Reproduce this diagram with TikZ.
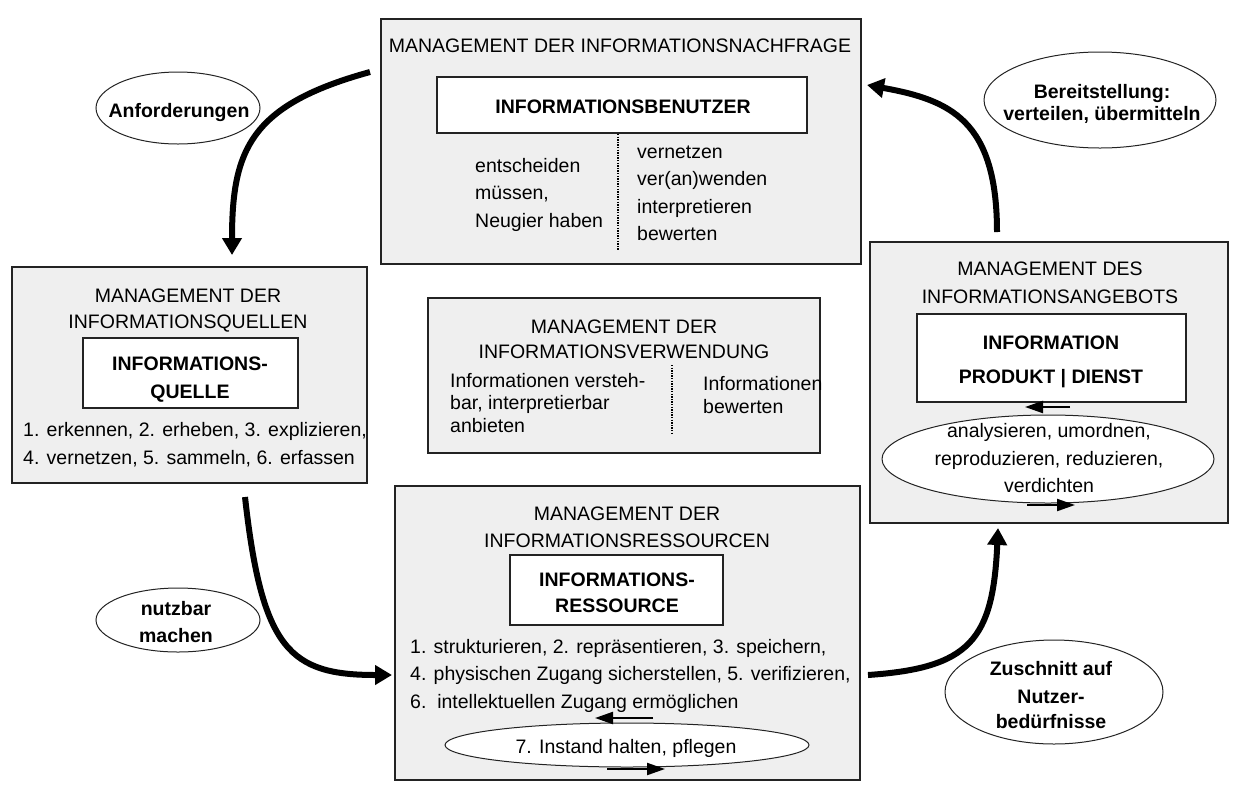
\documentclass[tikz,border=0pt]{standalone}
\usepackage{fontspec}
\setmainfont{Liberation Sans}
\usetikzlibrary{arrows.meta,shapes.geometric}
\definecolor{boxgray}{RGB}{239,239,239}
\definecolor{edge}{RGB}{35,35,35}
\begin{document}
\begin{tikzpicture}[x=1pt,y=-1pt,
  font=\fontsize{19.5}{27.5}\selectfont,
  panel/.style={draw=edge,line width=1.3pt,fill=boxgray,inner sep=0pt},
  whitebox/.style={draw=edge,line width=1.4pt,fill=white,inner sep=0pt},
  oval/.style={draw=edge,line width=1pt,fill=white,ellipse,inner sep=0pt},
  ln/.style={anchor=base,inner sep=0pt},
  lnw/.style={anchor=base west,inner sep=0pt},
  bln/.style={anchor=base,inner sep=0pt,font=\fontsize{19.5}{27.5}\selectfont\bfseries},
  bigarrow/.style={line width=6pt,-{Triangle[length=17pt,width=19pt]}},
  smallarrow/.style={line width=2.2pt,-{Triangle[length=18pt,width=12pt]}},
  dotline/.style={line width=1.6pt,dash pattern=on 1.4pt off 1.2pt}]
\useasboundingbox (0,0) rectangle (1258,796);

% ---------- panels ----------
\node[panel,minimum width=480pt,minimum height=245pt] (nach) at (621,141.5) {};
\node[panel,minimum width=355pt,minimum height=216pt] (quel) at (189.5,375) {};
\node[panel,minimum width=392pt,minimum height=155pt] (verw) at (624,375.5) {};
\node[panel,minimum width=465pt,minimum height=294pt] (ress) at (627.5,633) {};
\node[panel,minimum width=358pt,minimum height=281pt] (ange) at (1049,382.5) {};

% ---------- inner white boxes ----------
\node[whitebox,minimum width=370pt,minimum height=56pt] (benu) at (622,105) {};
\node[whitebox,minimum width=215pt,minimum height=70pt] (quelle) at (190.5,373) {};
\node[whitebox,minimum width=213pt,minimum height=70pt] (ressource) at (616.5,590) {};
\node[whitebox,minimum width=269pt,minimum height=88pt] (produkt) at (1051.5,358) {};

% ---------- ovals ----------
\node[oval,minimum width=364pt,minimum height=44pt] (pflege) at (627,745) {};
\node[oval,minimum width=332pt,minimum height=88pt] (analyse) at (1048,459) {};
\node[oval,minimum width=164pt,minimum height=72pt] (anf) at (178,108) {};
\node[oval,minimum width=164pt,minimum height=64pt] (nutz) at (178,620) {};
\node[oval,minimum width=232pt,minimum height=96pt] (bereit) at (1100,100) {};
\node[oval,minimum width=218pt,minimum height=104pt] (zuschnitt) at (1054,692) {};

% ---------- dotted separators ----------
\coordinate (d1a) at (618,134);
\coordinate (d1b) at (618,250);
\draw[dotline] (d1a) -- (d1b);
\coordinate (d2a) at (672,365);
\coordinate (d2b) at (672,433);
\draw[dotline] (d2a) -- (d2b);

% ---------- texts: Nachfrage ----------
\node[ln] (n1) at (620,52) {MANAGEMENT DER INFORMATIONSNACHFRAGE};
\node[bln] (n2) at (623,113) {INFORMATIONSBENUTZER};
\node[lnw] (n3) at (475,172) {entscheiden};
\node[lnw] (n4) at (475,199.5) {müssen,};
\node[lnw] (n5) at (475,227) {Neugier haben};
\node[lnw] (n6) at (637,158) {vernetzen};
\node[lnw] (n7) at (637,185.5) {ver(an)wenden};
\node[lnw] (n8) at (637,213) {interpretieren};
\node[lnw] (n9) at (637,240.5) {bewerten};

% ---------- texts: Quellen ----------
\node[ln] (q1) at (188,302) {MANAGEMENT DER};
\node[ln] (q2) at (188,328) {INFORMATIONSQUELLEN};
\node[bln] (q3) at (190,370) {INFORMATIONS-};
\node[bln] (q4) at (190,398) {QUELLE};
\node[lnw] (q5) at (23,436) {1. erkennen, 2. erheben, 3. explizieren,};
\node[lnw] (q6) at (23,464) {4. vernetzen, 5. sammeln, 6. erfassen};

% ---------- texts: Verwendung ----------
\node[ln] (v1) at (624,333) {MANAGEMENT DER};
\node[ln] (v2) at (624,358) {INFORMATIONSVERWENDUNG};
\node[lnw] (v3) at (450,387) {Informationen versteh-};
\node[lnw] (v4) at (450,409.5) {bar, interpretierbar};
\node[lnw] (v5) at (450,432) {anbieten};
\node[lnw] (v6) at (703,390) {Informationen};
\node[lnw] (v7) at (703,413) {bewerten};

% ---------- texts: Ressourcen ----------
\node[ln] (r1) at (627,520) {MANAGEMENT DER};
\node[ln] (r2) at (627,547) {INFORMATIONSRESSOURCEN};
\node[bln] (r3) at (617,586) {INFORMATIONS-};
\node[bln] (r4) at (617,612) {RESSOURCE};
\node[lnw] (r5) at (410,653) {1. strukturieren, 2. repräsentieren, 3. speichern,};
\node[lnw] (r6) at (410,680.5) {4. physischen Zugang sicherstellen, 5. verifizieren,};
\node[lnw] (r7) at (410,708) {6.\ \ intellektuellen Zugang ermöglichen};
\node[ln] (r8) at (626,753) {7. Instand halten, pflegen};

% ---------- texts: Angebot ----------
\node[ln] (g1) at (1050,275) {MANAGEMENT DES};
\node[ln] (g2) at (1050,303) {INFORMATIONSANGEBOTS};
\node[bln] (g3) at (1051,349) {INFORMATION};
\node[bln] (g4) at (1051,383) {PRODUKT | DIENST};
\node[ln] (g5) at (1049,437) {analysieren, umordnen,};
\node[ln] (g6) at (1049,465) {reproduzieren, reduzieren,};
\node[ln] (g7) at (1049,492) {verdichten};

% ---------- texts: labels ----------
\node[bln] (l1) at (179,117) {Anforderungen};
\node[bln] (l2) at (176,615) {nutzbar};
\node[bln] (l3) at (176,642) {machen};
\node[bln] (l4) at (1102,98) {Bereitstellung:};
\node[bln] (l5) at (1102,120) {verteilen, übermitteln};
\node[bln] (l6) at (1051,675) {Zuschnitt auf};
\node[bln] (l7) at (1051,703) {Nutzer-};
\node[bln] (l8) at (1051,728) {bedürfnisse};

% ---------- small cycle arrows ----------
\coordinate (p1s) at (653,718);
\coordinate (p1e) at (595,718);
\coordinate (p2s) at (607,769);
\coordinate (p2e) at (665,769);
\draw[smallarrow] (p1s) -- (p1e);
\draw[smallarrow] (p2s) -- (p2e);
\coordinate (s1s) at (1070,407);
\coordinate (s1e) at (1025,407);
\coordinate (s2s) at (1027,505);
\coordinate (s2e) at (1075,505);
\draw[smallarrow] (s1s) -- (s1e);
\draw[smallarrow] (s2s) -- (s2e);

% ---------- big cycle arrows ----------
\coordinate (a1s) at (370,72);
\coordinate (a1e) at (232,255);
\draw[bigarrow] (a1s) .. controls (250,105) and (232,150) .. (a1e);
\coordinate (a2s) at (245,497);
\coordinate (a2e) at (392,675);
\draw[bigarrow] (a2s) .. controls (262,650) and (290,675) .. (a2e);
\coordinate (a3s) at (868,675);
\coordinate (a3e) at (998,528);
\draw[bigarrow] (a3s) .. controls (970,668) and (993,640) .. (a3e);
\coordinate (a4s) at (997,232);
\coordinate (a4e) at (867,85);
\draw[bigarrow] (a4s) .. controls (997,120) and (950,100) .. (a4e);
\end{tikzpicture}
\end{document}
